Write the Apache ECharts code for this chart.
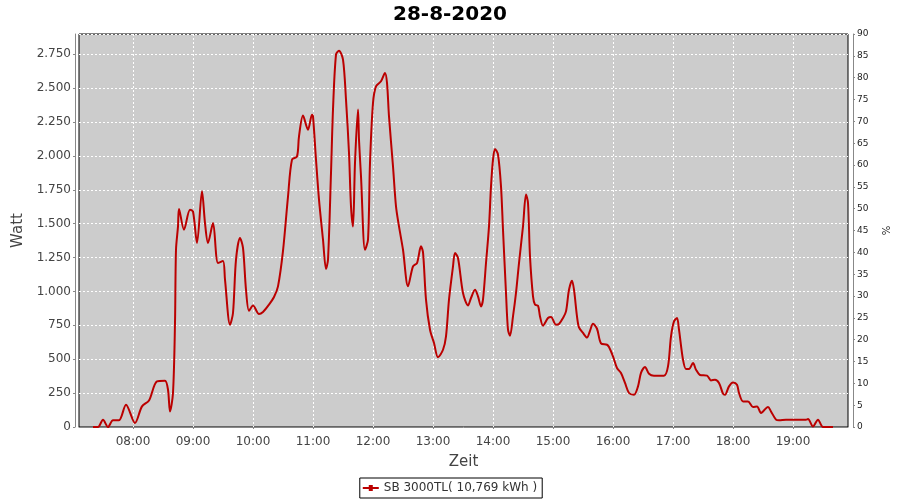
<!DOCTYPE html>
<html><head><meta charset="utf-8">
<script src="https://cdn.jsdelivr.net/npm/echarts@6/dist/echarts.min.js"></script>
<style>html,body{margin:0;padding:0;background:#fff}#c{width:900px;height:500px}</style>
</head><body><div id="c"></div>
<script>
var title = '28-8-2020';
var seriesName = 'SB 3000TL( 10,769 kWh )';
var hourTicks = ['08:00','09:00','10:00','11:00','12:00','13:00','14:00','15:00','16:00','17:00','18:00','19:00'];
var times = ['07:20','07:25','07:30','07:35','07:40','07:46','07:53','08:02','08:09','08:16','08:24','08:32','08:35','08:37','08:40','08:42','08:43','08:45','08:46','08:51','08:57','09:00','09:04','09:09','09:12','09:15','09:20','09:25','09:30','09:32','09:37','09:40','09:43','09:47','09:50','09:53','09:56','10:00','10:06','10:10','10:16','10:21','10:25','10:30','10:35','10:39','10:44','10:46','10:50','10:55','10:59','11:00','11:03','11:06','11:10','11:13','11:15','11:18','11:20','11:23','11:26','11:30','11:33','11:36','11:38','11:40','11:42','11:45','11:46','11:48','11:52','11:55','11:57','12:00','12:03','12:08','12:12','12:14','12:16','12:20','12:23','12:26','12:30','12:35','12:40','12:44','12:48','12:50','12:53','12:57','13:01','13:05','13:10','13:13','13:16','13:20','13:22','13:25','13:30','13:35','13:38','13:42','13:45','13:48','13:50','13:53','13:56','13:58','14:00','14:02','14:05','14:08','14:10','14:13','14:15','14:17','14:20','14:23','14:26','14:30','14:33','14:35','14:37','14:40','14:42','14:45','14:47','14:50','14:55','14:58','15:03','15:06','15:10','15:13','15:16','15:19','15:21','15:24','15:26','15:30','15:34','15:37','15:40','15:44','15:48','15:54','15:56','16:00','16:04','16:08','16:12','16:16','16:21','16:25','16:28','16:32','16:36','16:41','16:51','16:55','16:58','17:01','17:04','17:06','17:10','17:13','17:16','17:20','17:23','17:27','17:34','17:38','17:42','17:46','17:50','17:52','17:56','18:00','18:04','18:06','18:10','18:15','18:20','18:24','18:28','18:30','18:35','18:38','18:43','18:46','18:53','19:13','19:15','19:20','19:25','19:30','19:40'];
var watts = [0,0,54,0,50,50,165,30,152,196,337,342,275,115,251,767,1308,1480,1609,1456,1603,1590,1358,1739,1505,1358,1505,1210,1225,1087,755,841,1235,1395,1321,1013,858,897,834,849,903,959,1038,1300,1700,1973,1997,2145,2298,2194,2305,2292,1973,1678,1382,1166,1235,1875,2342,2748,2777,2711,2416,2022,1628,1480,1949,2342,2120,1850,1308,1382,1949,2391,2514,2551,2613,2539,2292,1923,1628,1480,1308,1038,1185,1210,1333,1290,940,718,620,514,570,669,940,1185,1284,1247,989,897,952,1013,964,890,940,1210,1480,1776,1973,2052,2010,1776,1456,989,718,674,816,989,1210,1480,1715,1653,1259,964,903,895,816,748,804,812,755,760,804,853,1013,1080,1013,816,735,694,660,710,762,725,617,607,590,521,435,398,325,251,238,300,399,443,393,379,379,447,669,779,804,718,497,428,428,472,423,384,379,344,349,325,246,238,300,329,312,251,189,189,148,152,103,115,148,115,54,49,54,54,59,4,54,0,0];

function toMin(s){var p=s.split(':');return (+p[0])*60+(+p[1]);}
function fmtMin(m){var h=Math.floor(m/60),mm=Math.round(m%60);return (h<10?'0':'')+h+':'+(mm<10?'0':'')+mm;}
function fmtDe(v){return String(v).replace(/\B(?=(\d{3})+(?!\d))/g,'.');}
var tickMins = hourTicks.map(toMin);
var data = times.map(function(t,i){return [toMin(t), watts[i]];});

var chart = echarts.init(document.getElementById('c'), null, {renderer:'canvas'});
var F = 'DejaVu Sans';
chart.setOption({
  animation:false,
  backgroundColor:'#ffffff',
  title:{text:title,left:'center',top:0,textStyle:{fontFamily:F,fontSize:20,fontWeight:'bold',color:'#000'}},
  legend:{data:[seriesName],left:'center',top:478,orient:'horizontal',borderColor:'#000',borderWidth:1,padding:[4,5,4,3],itemWidth:16,itemHeight:8,
    icon:'path://M0,3h6v-2h4v2h6v2h-6v2h-4v-2h-6z',
    textStyle:{fontFamily:F,fontSize:12,color:'#333'}},
  grid:{left:79,right:52,top:34,bottom:73,show:true,backgroundColor:'#CCCCCC',borderColor:'#000',borderWidth:1,containLabel:false},
  xAxis:{type:'value',min:426,max:1195,offset:4,
    name:'Zeit',nameLocation:'middle',nameGap:24,nameTextStyle:{fontFamily:F,fontSize:15,color:'#444'},
    axisLine:{show:true,lineStyle:{color:'#888',width:1}},
    axisTick:{show:true,length:2,inside:false,lineStyle:{color:'#888'},customValues:tickMins},
    axisLabel:{customValues:tickMins,formatter:function(v){return fmtMin(v);},fontFamily:F,fontSize:12,color:'#444',margin:5},
    splitLine:{show:true,lineStyle:{color:'#fff',type:[2,2],width:1}}},
  yAxis:[
    {type:'value',min:0,max:2900,interval:250,position:'left',offset:4,
      name:'Watt',nameLocation:'middle',nameGap:42,nameRotate:90,nameTextStyle:{fontFamily:F,fontSize:15,color:'#444'},
      axisLine:{show:true,lineStyle:{color:'#888'}},
      axisTick:{show:true,length:2,lineStyle:{color:'#888'}},
      axisLabel:{showMaxLabel:false,formatter:function(v){return fmtDe(v);},fontFamily:F,fontSize:12,color:'#444',margin:4},
      splitLine:{show:true,lineStyle:{color:'#fff',type:[2,2],width:1}}},
    {type:'value',min:0,max:90,interval:5,position:'right',offset:5,
      name:'%',nameLocation:'middle',nameGap:22,nameRotate:-90,nameTextStyle:{fontFamily:F,fontSize:10,color:'#222'},
      axisLine:{show:true,lineStyle:{color:'#888'}},
      axisTick:{show:true,length:2,lineStyle:{color:'#888'}},
      axisLabel:{fontFamily:F,fontSize:9,color:'#222',margin:4},
      splitLine:{show:false}}
  ],
  series:[{name:seriesName,type:'line',yAxisIndex:0,data:data,showSymbol:false,symbol:'none',smooth:0.3,
    lineStyle:{color:'#BB0000',width:2},itemStyle:{color:'#BB0000'}}]
});
</script></body></html>
